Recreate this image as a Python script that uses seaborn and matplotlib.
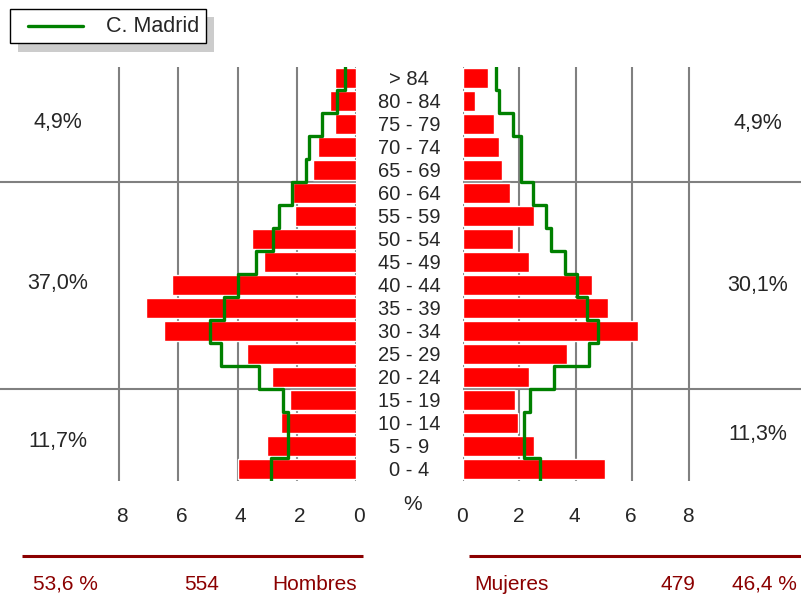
import numpy as np
import matplotlib
matplotlib.use("Agg")
import matplotlib.pyplot as plt
import matplotlib.transforms as mtransforms
from matplotlib.patches import Rectangle
import seaborn as sns

# age groups, top to bottom as drawn
ages = ["> 84", "80 - 84", "75 - 79", "70 - 74", "65 - 69", "60 - 64", "55 - 59",
        "50 - 54", "45 - 49", "40 - 44", "35 - 39", "30 - 34", "25 - 29", "20 - 24",
        "15 - 19", "10 - 14", "5 - 9", "0 - 4"]
hombres = [0.71, 0.88, 0.71, 1.28, 1.45, 2.13, 2.06, 3.51, 3.11,
           6.22, 7.09, 6.49, 3.68, 2.84, 2.23, 2.53, 3.00, 3.99]
mujeres = [0.89, 0.43, 1.10, 1.28, 1.38, 1.67, 2.52, 1.77, 2.34,
           4.57, 5.13, 6.21, 3.69, 2.34, 1.84, 1.95, 2.52, 5.04]
madrid_h = [0.37, 0.65, 1.16, 1.58, 1.69, 2.16, 2.59, 2.79, 3.39,
            3.98, 4.46, 4.93, 4.57, 3.29, 2.47, 2.29, 2.29, 2.88]
madrid_m = [1.17, 1.28, 1.78, 2.06, 2.06, 2.47, 2.94, 3.11, 3.63,
            4.05, 4.38, 4.77, 4.46, 3.24, 2.38, 2.16, 2.16, 2.74]

# broad groups: rows (first, last) and their shares
group_rows = [(0, 4), (5, 13), (14, 17)]
pct_h = ["4,9%", "37,0%", "11,7%"]
pct_m = ["4,9%", "30,1%", "11,3%"]
ticks = [0, 2, 4, 6, 8]
n_h, n_m = 554, 479
tot_h, tot_m = "53,6 %", "46,4 %"

RED = "#ff0000"
GREEN = "#008000"
GRID = "#808080"
DARKRED = "#8b0000"

sns.set_style("white")
plt.rcParams["font.family"] = ["Liberation Sans", "DejaVu Sans"]

W, H = 801, 603
fig = plt.figure(figsize=(W / 100, H / 100), dpi=100)


def px_axes(x0, y0, x1, y1):
    return fig.add_axes([x0 / W, 1 - y1 / H, (x1 - x0) / W, (y1 - y0) / H])


axL = px_axes(0, 66.5, 356, 480.5)
axR = px_axes(463, 66.5, 801, 480.5)

edges = np.repeat(np.arange(len(ages)), 2) + np.tile([-0.5, 0.5], len(ages))

for ax, vals, ref in [(axL, hombres, madrid_h), (axR, mujeres, madrid_m)]:
    sns.barplot(x=vals, y=ages, order=ages, orient="h", color=RED, saturation=1,
                width=0.9, errorbar=None, ax=ax, zorder=2)
    sns.lineplot(x=np.repeat(ref, 2), y=edges, sort=False, estimator=None,
                 color=GREEN, lw=2.4, ax=ax, zorder=3)
    for t in ticks:
        ax.axvline(t, color=GRID, lw=1.5, zorder=1)
    for a, b in group_rows[:-1]:
        ax.axhline(b + 0.5, color=GRID, lw=1.5, zorder=1)
    ax.set_ylim(len(ages) - 0.5, -0.5)
    ax.set_xticks([])
    ax.set_yticks([])
    ax.set_xlabel("")
    ax.set_ylabel("")
    sns.despine(ax=ax, left=True, bottom=True)

axL.set_xlim(356 / 29.6, 0)
axR.set_xlim(0, 338 / 28.2)

ov = fig.add_axes([0, 0, 1, 1])
ov.set_xlim(0, W)
ov.set_ylim(H, 0)
ov.axis("off")
ov.patch.set_visible(False)

# age labels in the middle
tr_rows = mtransforms.blended_transform_factory(ov.transData, axL.transData)
for i, a in enumerate(ages):
    ov.text(409, i + 0.05, a, transform=tr_rows, ha="center", va="center", fontsize=14.5)

# group shares on both sides
for k, ((a, b), ph, pm) in enumerate(zip(group_rows, pct_h, pct_m)):
    yc = (a + b) / 2
    ov.text(58, yc + (0.3 if k == 2 else -0.05), ph, transform=tr_rows,
            ha="center", va="center", fontsize=15.5)
    ov.text(758, yc, pm, transform=tr_rows, ha="center", va="center", fontsize=15.5)

# x tick labels
for ax, dx in ((axL, 3), (axR, -1)):
    tr = mtransforms.blended_transform_factory(ax.transData, ov.transData)
    tr = tr + mtransforms.ScaledTranslation(dx / 100, 0, fig.dpi_scale_trans)
    for t in ticks:
        ov.text(t, 516, str(t), transform=tr, ha="center", va="center", fontsize=15)
ov.text(413, 505, "%", ha="center", va="center", fontsize=15)

# legend box with shadow
ov.add_patch(Rectangle((18, 17), 196, 35, facecolor="#cccccc", edgecolor="none"))
ov.add_patch(Rectangle((10, 8.5), 196, 34.5, facecolor="white", edgecolor="black", lw=1))
ov.plot([28, 83], [25.5, 25.5], color=GREEN, lw=2.4)
ov.text(106, 26, "C. Madrid", ha="left", va="center", fontsize=15.5)

# totals at the bottom
ov.plot([22, 363], [556, 556], color=DARKRED, lw=2.2, solid_capstyle="butt")
ov.plot([469, 801], [556, 556], color=DARKRED, lw=2.2, solid_capstyle="butt")
ov.text(33, 584, tot_h, ha="left", va="center", fontsize=15, color=DARKRED)
ov.text(202, 584, str(n_h), ha="center", va="center", fontsize=15, color=DARKRED)
ov.text(357, 584, "Hombres", ha="right", va="center", fontsize=15, color=DARKRED)
ov.text(474, 584, "Mujeres", ha="left", va="center", fontsize=15, color=DARKRED)
ov.text(678, 584, str(n_m), ha="center", va="center", fontsize=15, color=DARKRED)
ov.text(797, 584, tot_m, ha="right", va="center", fontsize=15, color=DARKRED)

fig.savefig("out.png", dpi=100)
